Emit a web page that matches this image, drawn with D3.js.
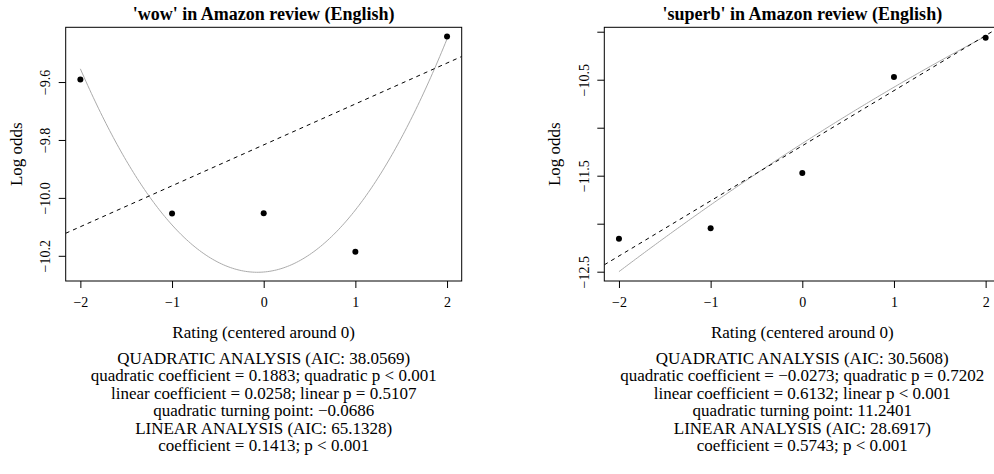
<!DOCTYPE html>
<html>
<head>
<meta charset="utf-8">
<script src="https://cdn.jsdelivr.net/npm/d3@7"></script>
<style>
  html, body { margin: 0; padding: 0; background: #fff; }
  svg { display: block; }
  text { font-family: "Liberation Serif", "Times New Roman", serif; fill: #000; }
</style>
</head>
<body>
<svg id="chart" width="994" height="474"></svg>
<script>
// ---------- data ----------
const ratings = [-2, -1, 0, 1, 2];

const wowTitle = "'wow' in Amazon review (English)";
const wowLogOdds = [-9.591, -10.054, -10.053, -10.186, -9.443];
const wowQuadCoef = [-10.256, 0.0258, 0.1883];     // c, b, a
const wowLinearCoef = [-9.817, 0.1413];            // intercept, slope
const wowYTicks = [-9.6, -9.8, -10.0, -10.2];
const wowYTickLabels = ["\u22129.6", "\u22129.8", "\u221210.0", "\u221210.2"];
const wowYDomain = [-10.287, -9.411];
const wowNotes = [
  "QUADRATIC ANALYSIS (AIC: 38.0569)",
  "quadratic coefficient = 0.1883; quadratic p < 0.001",
  "linear coefficient = 0.0258; linear p = 0.5107",
  "quadratic turning point: \u22120.0686",
  "LINEAR ANALYSIS (AIC: 65.1328)",
  "coefficient = 0.1413; p < 0.001"
];

const superbTitle = "'superb' in Amazon review (English)";
const superbLogOdds = [-12.156, -12.048, -11.472, -10.472, -10.063];
const superbQuadCoef = [-11.164, 0.6132, -0.0273];
const superbLinearCoef = [-11.188, 0.5743];
const superbYTicks = [-10.0, -10.5, -11.0, -11.5, -12.0, -12.5];
const superbYTickLabels = ["", "\u221210.5", "", "\u221211.5", "", "\u221212.5"];
const superbYDomain = [-12.597, -9.954];
const superbNotes = [
  "QUADRATIC ANALYSIS (AIC: 30.5608)",
  "quadratic coefficient = \u22120.0273; quadratic p = 0.7202",
  "linear coefficient = 0.6132; linear p < 0.001",
  "quadratic turning point: 11.2401",
  "LINEAR ANALYSIS (AIC: 28.6917)",
  "coefficient = 0.5743; p < 0.001"
];

const xTicks = [-2, -1, 0, 1, 2];
const xTickLabels = ["\u22122", "\u22121", "0", "1", "2"];
const xDomain = [-2.16, 2.16];
const xLabel = "Rating (centered around 0)";
const yLabel = "Log odds";

// ---------- drawing ----------
const svg = d3.select("#chart");
const FS_TICK = 14;
const FS_LAB = 17;
const FS_TITLE = 18;

function panel(opts) {
  const { left, top, width, height } = opts;
  const g = svg.append("g");
  const x = d3.scaleLinear().domain(xDomain).range([left, left + width]);
  const y = d3.scaleLinear().domain(opts.yDomain).range([top + height, top]);

  const clipId = "clip" + opts.id;
  svg.append("clipPath").attr("id", clipId)
    .append("rect").attr("x", left).attr("y", top).attr("width", width).attr("height", height);

  // quadratic curve
  const [c, b, a] = opts.quad;
  const xs = d3.range(0, 201).map(i => -2 + i * 4 / 200);
  g.append("path")
    .attr("d", d3.line().x(d => x(d)).y(d => y(a * d * d + b * d + c))(xs))
    .attr("fill", "none").attr("stroke", "#ababab").attr("stroke-width", 1);

  // linear fit (abline, dashed)
  const [i0, s] = opts.lin;
  g.append("line")
    .attr("clip-path", `url(#${clipId})`)
    .attr("x1", x(xDomain[0])).attr("y1", y(i0 + s * xDomain[0]))
    .attr("x2", x(xDomain[1])).attr("y2", y(i0 + s * xDomain[1]))
    .attr("stroke", "#000").attr("stroke-width", 1).attr("stroke-dasharray", "4,4");

  // points
  g.selectAll("circle.pt").data(ratings).join("circle")
    .attr("class", "pt")
    .attr("cx", d => x(d)).attr("cy", (d, i) => y(opts.values[i]))
    .attr("r", 3).attr("fill", "#000");

  // box
  g.append("rect").attr("x", left).attr("y", top).attr("width", width).attr("height", height)
    .attr("fill", "none").attr("stroke", "#000").attr("stroke-width", 1);

  // x axis
  const xAxis = d3.axisBottom(x).tickValues(xTicks)
    .tickFormat((d, i) => xTickLabels[i]).tickSize(7).tickSizeOuter(0).tickPadding(6);
  const xg = g.append("g").attr("transform", `translate(0,${top + height})`).call(xAxis);
  xg.select(".domain").remove();
  xg.selectAll("text").attr("font-size", FS_TICK).attr("font-family", null)
    .attr("y", 20.7).attr("dy", "0.35em");

  // y axis
  const yAxis = d3.axisLeft(y).tickValues(opts.yTicks)
    .tickFormat((d, i) => opts.yTickLabels[i]).tickSize(7).tickSizeOuter(0);
  const yg = g.append("g").attr("transform", `translate(${left},0)`).call(yAxis);
  yg.select(".domain").remove();
  yg.selectAll("text").attr("font-size", FS_TICK).attr("font-family", null)
    .attr("transform", "rotate(-90)").attr("x", 0).attr("y", -20.7)
    .attr("dy", "0.35em").attr("text-anchor", "middle");

  const cx = left + width / 2;
  // title
  g.append("text").attr("x", cx).attr("y", 13.5).attr("dy", "0.35em")
    .attr("text-anchor", "middle").attr("font-weight", "bold").attr("font-size", FS_TITLE)
    .text(opts.title);
  // y label
  g.append("text").attr("transform", `translate(${left - 50},${top + height / 2}) rotate(-90)`)
    .attr("dy", "0.35em").attr("text-anchor", "middle").attr("font-size", FS_LAB).text(yLabel);
  // x label
  g.append("text").attr("x", cx).attr("y", 331.7).attr("dy", "0.35em")
    .attr("text-anchor", "middle").attr("font-size", FS_LAB).text(xLabel);
  // notes
  opts.notes.forEach((t, k) => {
    g.append("text").attr("x", cx).attr("y", 357.7 + k * 17.55).attr("dy", "0.35em")
      .attr("text-anchor", "middle").attr("font-size", FS_LAB).text(t);
  });
}

panel({ id: "wow", left: 65.7, top: 27.3, width: 396, height: 253.7,
  values: wowLogOdds, quad: wowQuadCoef, lin: wowLinearCoef, yDomain: wowYDomain,
  yTicks: wowYTicks, yTickLabels: wowYTickLabels, title: wowTitle, notes: wowNotes });

panel({ id: "superb", left: 604.3, top: 27.3, width: 396, height: 253.7,
  values: superbLogOdds, quad: superbQuadCoef, lin: superbLinearCoef, yDomain: superbYDomain,
  yTicks: superbYTicks, yTickLabels: superbYTickLabels, title: superbTitle, notes: superbNotes });
</script>
</body>
</html>
